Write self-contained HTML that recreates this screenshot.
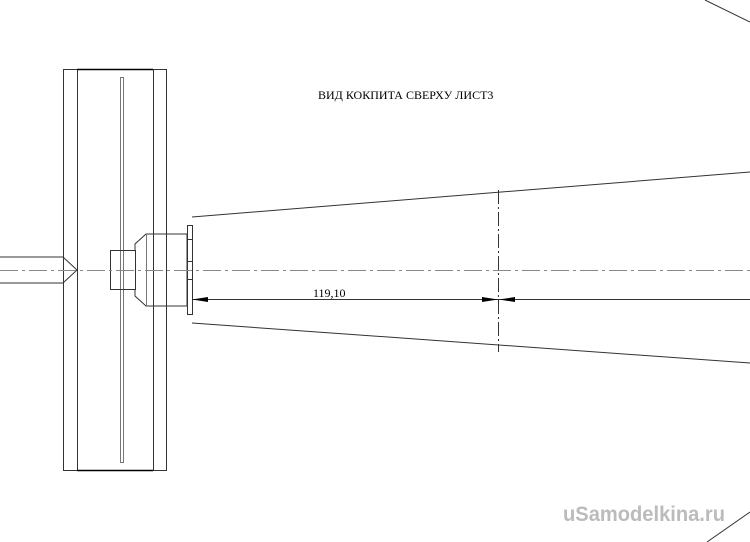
<!DOCTYPE html>
<html><head><style>body{margin:0;background:#fff}svg{display:block}</style></head><body>
<svg width="750" height="542" viewBox="0 0 750 542" xmlns="http://www.w3.org/2000/svg" font-family="Liberation Serif, serif">
<g stroke="#333" stroke-width="1" fill="none">
<line x1="705" y1="0" x2="750" y2="22"/>
<line x1="707" y1="542" x2="750" y2="512"/>
<polyline points="0,257 63,257 77,270 63,283 0,283"/>
<rect x="63.5" y="69.5" width="103" height="401"/>
<line x1="77.5" y1="69" x2="77.5" y2="470"/>
<line x1="153.5" y1="69" x2="153.5" y2="470"/>
<line x1="77" y1="69.5" x2="153" y2="69.5" stroke="#000" stroke-width="1.5"/>
<line x1="77" y1="470.5" x2="153" y2="470.5" stroke="#000" stroke-width="1.5"/>
<rect x="120.5" y="77.5" width="3" height="385" stroke="#777"/>
<rect x="110.5" y="250.5" width="25" height="39"/>
<polyline points="135,250 135,244 146,234 187,234 187,306 146,306 135,296 135,290"/>
<line x1="146.5" y1="234" x2="146.5" y2="306" stroke="#777"/>
<rect x="187.5" y="225.5" width="5" height="89"/>
<line x1="187" y1="239.5" x2="192" y2="239.5"/>
<line x1="187" y1="261.5" x2="192" y2="261.5"/>
<line x1="187" y1="279.5" x2="192" y2="279.5"/>
<line x1="192" y1="217" x2="750" y2="172"/>
<line x1="192" y1="323" x2="750" y2="363"/>
<line x1="498.5" y1="190" x2="498.5" y2="352" stroke-dasharray="14,3,2,3"/>
<line x1="0" y1="270.5" x2="750" y2="270.5" stroke="#888" stroke-dasharray="18,4,3,4"/>
<line x1="192" y1="299.5" x2="750" y2="299.5"/>
</g>
<g fill="#000">
<polygon points="192,299.5 208,297 208,302"/>
<polygon points="498,299.5 482,297 482,302"/>
<polygon points="499,299.5 515,297 515,302"/>
</g>
<text x="313" y="297" font-size="12">119,10</text>
<text x="318" y="99" font-size="12">ВИД КОКПИТА СВЕРХУ ЛИСТ3</text>
<text x="563" y="521" font-size="21" font-weight="bold" fill="#bbb" font-family="Liberation Sans, sans-serif" textLength="162" lengthAdjust="spacingAndGlyphs">uSamodelkina.ru</text>
</svg>
</body></html>
